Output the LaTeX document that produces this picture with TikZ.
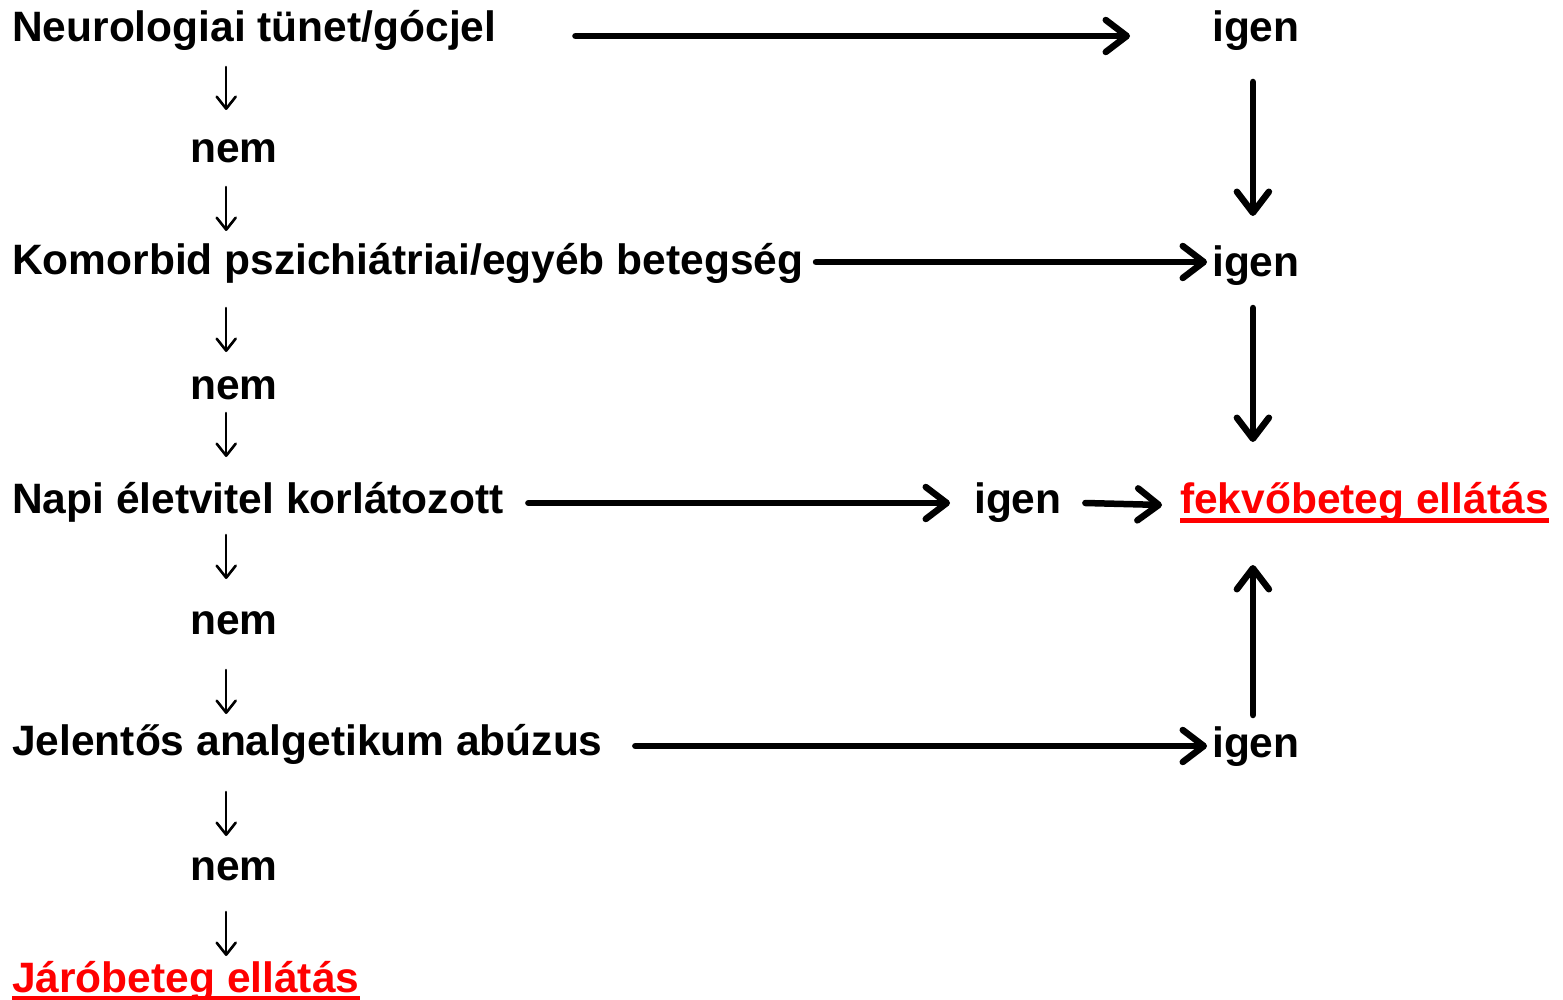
\documentclass[tikz,border=0pt]{standalone}
\usepackage{fontspec}
\setmainfont{Liberation Sans}
\usetikzlibrary{arrows.meta,calc}
\definecolor{myred}{RGB}{255,0,0}
\tikzset{
  txt/.style={inner sep=0pt, anchor=base west, font=\fontsize{42.5}{50}\selectfont\bfseries},
  redtxt/.style={txt, text=myred},
  big/.style={line width=6.5pt, line cap=round, -{Straight Barb[length=21pt,width=32pt,line cap=round,line join=round]}},
  small/.style={line width=2.6pt, line cap=round, -{Straight Barb[length=12pt,width=19pt,line cap=round,line join=round]}},
  uline/.style={myred, line width=5pt}
}
\begin{document}
\begin{tikzpicture}[x=1pt,y=-1pt]
\useasboundingbox (0,0) rectangle (1563,1000);
% left column
\node[txt] (neuro) at (12,42) {Neurologiai tünet/gócjel};
\node[txt] (nem1) at (190,163) {nem};
\node[txt] (komor) at (12,275) {Komorbid pszichiátriai/egyéb betegség};
\node[txt] (nem2) at (190,399) {nem};
\node[txt] (napi) at (12,513) {Napi életvitel korlátozott};
\node[txt] (nem3) at (190,634) {nem};
\node[txt] (jel) at (12,755) {Jelentős analgetikum abúzus};
\node[txt] (nem4) at (190,880) {nem};
\node[redtxt] (jaro) at (12,992) {Járóbeteg ellátás};
% right side
\node[txt] (igen1) at (1212,42) {igen};
\node[txt] (igen2) at (1212,277) {igen};
\node[txt] (igen3) at (974,513) {igen};
\node[redtxt] (fekv) at (1180,513) {fekvőbeteg ellátás};
\node[txt] (igen4) at (1212,757) {igen};
% underlines
\draw[uline] ([yshift=-7pt]fekv.base west) -- ([yshift=-7pt]fekv.base east);
\draw[uline] ([yshift=-6pt]jaro.base west) -- ([yshift=-6pt]jaro.base east);
% horizontal arrows
\draw[big] ([shift={(79,-6)}]neuro.base east) -- ([shift={(-82,-6)}]igen1.base west);
\draw[big] ([shift={(12.5,-13)}]komor.base east) -- ([shift={(-5,-15)}]igen2.base west);
\draw[big] ([shift={(24.8,-10)}]napi.base east) -- ([shift={(-24,-10)}]igen3.base west);
\draw[big] ([shift={(23.6,-10)}]igen3.base east) -- ([shift={(-18,-8)}]fekv.base west);
\draw[big] ([shift={(32.5,-9)}]jel.base east) -- ([shift={(-5,-11)}]igen4.base west);
% vertical thick arrows
\draw[big] ([shift={(-3,40)}]igen1.base) -- ([shift={(-3,-61)}]igen2.base);
\draw[big] ([shift={(-3,31)}]igen2.base) -- ($(igen2.base |- fekv.base)+(-3,-71)$);
\draw[big] ([shift={(-3,-42)}]igen4.base) -- ($(igen4.base |- fekv.base)+(-3,52)$);
% small arrows
\draw[small] ($(nem1.base |- neuro.base)+(-7.7,25)$) -- ([shift={(-7.7,-53)}]nem1.base);
\draw[small] ([shift={(-7.7,24)}]nem1.base) -- ($(nem1.base |- komor.base)+(-7.7,-44)$);
\draw[small] ($(nem2.base |- komor.base)+(-7.7,33)$) -- ([shift={(-7.7,-47)}]nem2.base);
\draw[small] ([shift={(-7.7,14)}]nem2.base) -- ($(nem2.base |- napi.base)+(-7.7,-56)$);
\draw[small] ($(nem3.base |- napi.base)+(-7.7,22)$) -- ([shift={(-7.7,-55)}]nem3.base);
\draw[small] ([shift={(-7.7,36)}]nem3.base) -- ($(nem3.base |- jel.base)+(-7.7,-41)$);
\draw[small] ($(nem4.base |- jel.base)+(-7.7,37)$) -- ([shift={(-7.7,-44)}]nem4.base);
\draw[small] ([shift={(-7.7,32)}]nem4.base) -- ($(nem4.base |- jaro.base)+(-7.7,-36)$);
\end{tikzpicture}
\end{document}
